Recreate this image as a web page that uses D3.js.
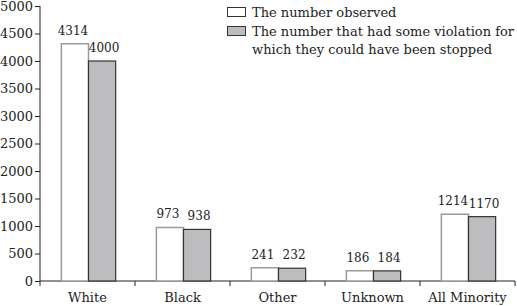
<!DOCTYPE html>
<html><head><meta charset="utf-8">
<script src="https://cdn.jsdelivr.net/npm/d3@7"></script>
<style>body{margin:0;background:#fff}svg{display:block}text{font-family:"DejaVu Serif",serif;fill:#222}</style>
</head><body><svg id="c" width="517" height="306"></svg>
<script>
const categories = ["White","Black","Other","Unknown","All Minority"];
const observed = [4314,973,241,186,1214];
const violation = [4000,938,232,184,1170];
const yTicks = [0,500,1000,1500,2000,2500,3000,3500,4000,4500,5000];
const seriesNames = ["The number observed","The number that had some violation for","which they could have been stopped"];

const FS = "13px";
const svg = d3.select("#c");
const x = d3.scaleBand().domain(categories).range([40,515]).paddingInner(0).paddingOuter(0);
const y = d3.scaleLinear().domain([0,5000]).range([281,6]);
const inner = d3.scaleBand().domain([0,1]).range([0,x.bandwidth()]).paddingOuter(0.75).paddingInner(0);

// y axis
const ya = svg.append("g").attr("transform","translate(40,0)")
  .call(d3.axisLeft(y).tickValues(yTicks).tickSize(5).tickFormat(d3.format("d")));
ya.selectAll("path,line").attr("stroke","#222");
ya.select(".domain").attr("d","M0,6V281");
ya.selectAll("text").style("font-size",FS).style("font-family","'DejaVu Serif',serif").attr("fill","#222").attr("x",-7);

// x axis
const xa = svg.append("g").attr("transform","translate(0,281)");
xa.append("line").attr("x1",40).attr("x2",515).attr("stroke","#222");
const bounds = categories.map(c=>x(c)).concat([x(categories[4])+x.bandwidth()]);
xa.selectAll("line.t").data(bounds).join("line").attr("class","t")
  .attr("x1",d=>d).attr("x2",d=>d).attr("y1",0).attr("y2",5).attr("stroke","#222");
xa.selectAll("text").data(categories).join("text")
  .attr("x",d=>x(d)+x.bandwidth()/2).attr("y",21).attr("text-anchor","middle")
  .style("font-size",FS).text(d=>d);

// bars
const g = svg.append("g").attr("transform","translate(1,0)");
categories.forEach((c,i)=>{
  const x0 = x(c)+inner(0), x1 = x(c)+inner(1), w = inner.bandwidth();
  g.append("rect").attr("x",x0).attr("y",y(observed[i])).attr("width",w).attr("height",y(0)-y(observed[i]))
    .attr("fill","#fff").attr("stroke","#9a9a9a").attr("stroke-width",1.5);
  g.append("rect").attr("x",x1).attr("y",y(violation[i])).attr("width",w).attr("height",y(0)-y(violation[i]))
    .attr("fill","#bdbdbf").attr("stroke","#333").attr("stroke-width",1.2);
  g.append("text").attr("x",x0+w/2-2).attr("y",y(observed[i])-9).attr("text-anchor","middle").style("font-size","12px").text(observed[i]);
  g.append("text").attr("x",x1+w/2+2).attr("y",y(violation[i])-9).attr("text-anchor","middle").style("font-size","12px").text(violation[i]);
});

// legend
const lg = svg.append("g");
lg.append("rect").attr("x",227.5).attr("y",7.5).attr("width",18).attr("height",9).attr("fill","#fff").attr("stroke","#333");
lg.append("rect").attr("x",227.5).attr("y",26.5).attr("width",18).attr("height",9).attr("fill","#bdbdbf").attr("stroke","#333");
lg.selectAll("text").data(seriesNames).join("text")
  .attr("x",252).attr("y",(d,i)=>17+i*18.5).style("font-size",FS).text(d=>d);
</script></body></html>
